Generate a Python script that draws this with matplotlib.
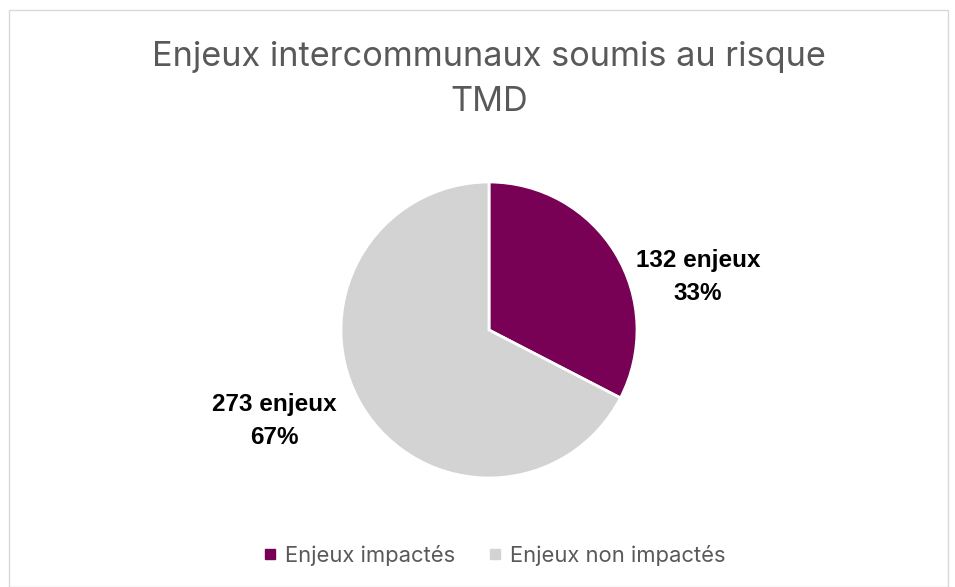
import matplotlib
matplotlib.use("Agg")
import matplotlib.pyplot as plt
from matplotlib.patches import Rectangle
from matplotlib.lines import Line2D

categories = ["Enjeux impactés", "Enjeux non impactés"]
values = [132, 273]
colors = ["#780055", "#D3D3D3"]
title = "Enjeux intercommunaux soumis au risque\nTMD"

plt.rcParams['font.family'] = ['Inter', 'DejaVu Sans']

W, H = 955, 587
fig = plt.figure(figsize=(W/100, H/100), dpi=100)
fig.patch.set_facecolor("white")

# chart border
fig.patches.append(Rectangle((9/W, 0), (948-9)/W, 1 - 10/H, transform=fig.transFigure,
                             fill=False, edgecolor="#D9D9D9", linewidth=1.0))

cx, cy, r = 489, 330, 148
ax = fig.add_axes([(cx - r)/W, 1 - (cy + r)/H, 2*r/W, 2*r/H])
wedges, _ = ax.pie(values, colors=colors, startangle=90, counterclock=False,
                   wedgeprops=dict(edgecolor="white", linewidth=2))
ax.set_aspect("equal")
ax.set_xlim(-1, 1)
ax.set_ylim(-1, 1)

total = sum(values)
label_pos = [(698, 277), (274, 421)]
for v, (x, y) in zip(values, label_pos):
    fig.text(x/W, 1 - y/H, f"{v} enjeux\n{round(100*v/total)}%", ha="center", va="center",
             fontsize=17.5, fontweight="bold", color="black", linespacing=1.55,
             family=["Liberation Sans", "DejaVu Sans"])

fig.text(489/W, 1 - 79.5/H, title, ha="center", va="center", fontsize=24.7,
         color="#595959", linespacing=1.5)

handles = [Line2D([], [], marker="s", linestyle="none", markersize=7,
                  markerfacecolor=c, markeredgecolor=c) for c in colors]
fig.legend(handles, categories, loc="center", bbox_to_anchor=(492/W, 1 - 555/H),
           ncol=2, frameon=False, fontsize=15.8, labelcolor="#595959",
           handletextpad=0.2, columnspacing=1.3, handlelength=1.0)

fig.savefig("out.png", dpi=100, facecolor="white")
